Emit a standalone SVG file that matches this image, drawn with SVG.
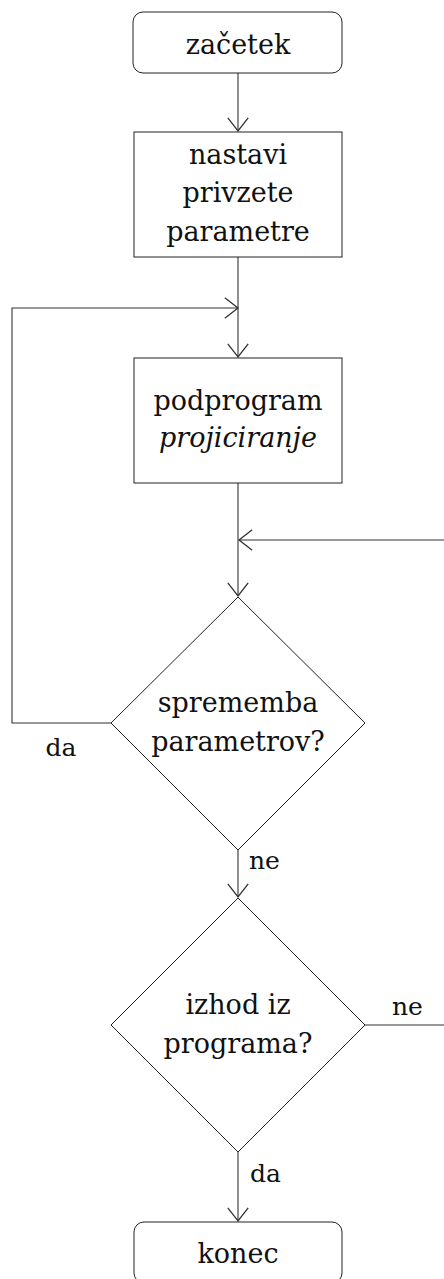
<svg xmlns="http://www.w3.org/2000/svg" width="444" height="1279" viewBox="0 0 444 1279">
<style>
.shape{fill:#fff;stroke:#222;stroke-width:1}
.conn{fill:none;stroke:#333;stroke-width:1.1}
text{font-family:'DejaVu Serif',serif;fill:#111}
.t{font-size:27px;text-anchor:middle}
.it{font-style:italic}
.lbl{font-size:25px}
</style>
<defs>
<marker id="arr" markerUnits="userSpaceOnUse" markerWidth="24" markerHeight="24" viewBox="-12 -10 14 20" refX="0" refY="0" orient="auto">
<path d="M-11,-8.5 L0,0 L-11,8.5" fill="none" stroke="#333" stroke-width="1.1"/>
</marker>
</defs>
<rect width="444" height="1279" fill="#fff"/>
<g id="connectors">
<path class="conn" d="M238,73 V131" marker-end="url(#arr)"/>
<path class="conn" d="M238,257 V357" marker-end="url(#arr)"/>
<path class="conn" d="M111,723 H12 V308 H238" marker-end="url(#arr)"/>
<path class="conn" d="M238,483 V596" marker-end="url(#arr)"/>
<path class="conn" d="M365,1025 H460 V540 H239" marker-end="url(#arr)"/>
<path class="conn" d="M238,850 V897" marker-end="url(#arr)"/>
<path class="conn" d="M238,1152 V1221" marker-end="url(#arr)"/>
<text class="lbl" x="61" y="756" text-anchor="middle">da</text>
<text class="lbl" x="249" y="869">ne</text>
<text class="lbl" x="392" y="1015">ne</text>
<text class="lbl" x="250" y="1182">da</text>
</g>
<g id="start">
<rect class="shape" x="133" y="12" width="209" height="61" rx="10"/>
<text class="t" x="238" y="54">začetek</text>
</g>
<g id="setDefaults">
<rect class="shape" x="134" y="132" width="208" height="125"/>
<text class="t" x="238" y="164">nastavi</text>
<text class="t" x="238" y="202">privzete</text>
<text class="t" x="238" y="241">parametre</text>
</g>
<g id="projection">
<rect class="shape" x="134" y="358" width="208" height="125"/>
<text class="t" x="238" y="410">podprogram</text>
<text class="t it" x="238" y="447">projiciranje</text>
</g>
<g id="changeParams">
<polygon class="shape" points="238,597 365,723 238,850 111,723"/>
<text class="t" x="238" y="712">sprememba</text>
<text class="t" x="238" y="751">parametrov?</text>
</g>
<g id="exitProgram">
<polygon class="shape" points="238,898 365,1025 238,1152 111,1025"/>
<text class="t" x="238" y="1014">izhod iz</text>
<text class="t" x="238" y="1053">programa?</text>
</g>
<g id="end">
<rect class="shape" x="134" y="1222" width="208" height="61" rx="10"/>
<text class="t" x="238" y="1263">konec</text>
</g>
</svg>
